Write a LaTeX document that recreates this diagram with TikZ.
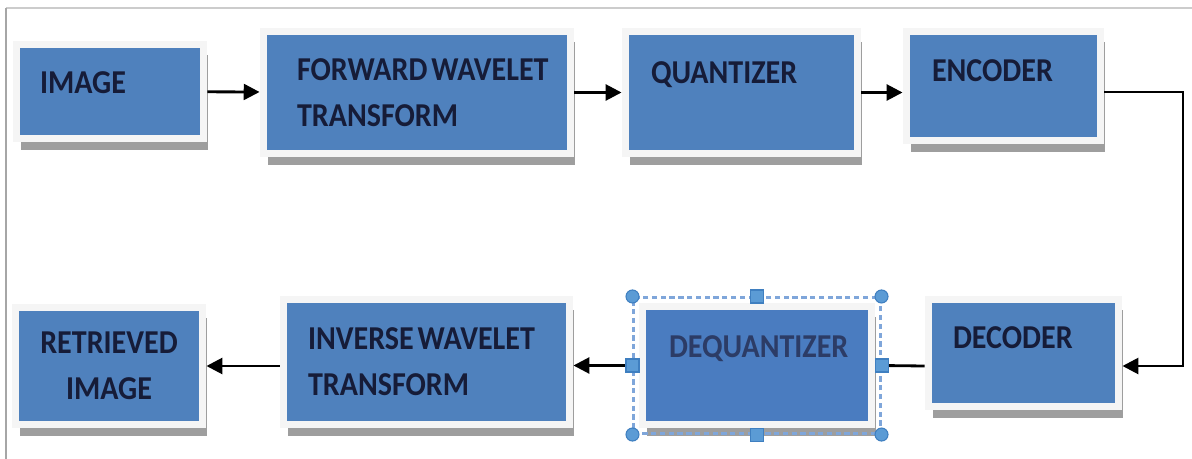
\documentclass[tikz,border=0pt]{standalone}
\usepackage{fontspec}
\setmainfont{Carlito}[FakeStretch=0.9]
\usepackage{tikz}
\usetikzlibrary{arrows.meta,shadows,fit}

\definecolor{blockblue}{HTML}{4F81BD}
\definecolor{deqblue}{HTML}{4A7CC0}
\definecolor{labelnavy}{HTML}{161C38}
\definecolor{deqtext}{HTML}{2C3C66}
\definecolor{selline}{HTML}{7FA6DA}
\definecolor{gripfill}{HTML}{5B9BD5}
\definecolor{gripdraw}{HTML}{3F7FC0}

\newcommand{\tightsp}{\hspace{0.12em}}

\tikzset{
  block/.style={rectangle, fill=blockblue, draw=black!4, line width=4.25pt,
    text=labelnavy, align=left, inner ysep=2pt,
    font=\fontsize{19pt}{26pt}\selectfont\bfseries,
    drop shadow={shadow xshift=0.09cm, shadow yshift=-0.22cm, fill=black!38, opacity=1}},
  oneline/.style={text height=12pt, text depth=#1},
  flow/.style={-{Triangle[length=9pt,width=9pt]}, line width=1.6pt},
  selbox/.style={draw=selline, dash pattern=on 3pt off 2pt, line width=1.2pt, inner sep=0.1cm},
  grip/.style={circle, fill=gripfill, draw=gripdraw, line width=0.6pt, inner sep=0pt, minimum size=0.26cm},
  gripsq/.style={rectangle, fill=gripfill, draw=gripdraw, line width=0.6pt, inner sep=0pt, minimum size=0.26cm}
}

\begin{document}
\begin{tikzpicture}[x=0.02cm, y=-0.02cm]
  \useasboundingbox (0,0) rectangle (1192,459);
  % page edge
  \draw[black!20, line width=0.8pt] (6,8) -- (1192,8);
  \draw[black!35, line width=0.8pt] (6,8) -- (6,459);

  % compression row
  \node[block, oneline=10pt, minimum width=3.75cm, minimum height=1.89cm, text width=2.8cm] (image) at (110,91.5) {IMAGE};
  \node[block, minimum width=6.15cm, minimum height=2.45cm, text width=4.8cm] (fwt) at (417,92.5) {\mbox{FORWARD\tightsp WAVELET}\\TRANSFORM};
  \node[block, oneline=22pt, minimum width=4.65cm, minimum height=2.45cm, text width=3.62cm] (quant) at (741.5,92.5) {QUANTIZER};
  \node[block, oneline=17pt, minimum width=3.89cm, minimum height=2.19cm, text width=2.86cm] (enc) at (1003.5,86) {ENCODER};

  % reconstruction row
  \node[block, oneline=17.5pt, minimum width=3.81cm, minimum height=2.15cm, text width=2.82cm] (dec) at (1023.5,353) {DECODER};
  \node[block, oneline=21.5pt, fill=deqblue, text=deqtext, minimum width=4.59cm, minimum height=2.37cm, text width=3.52cm] (deq) at (757,365.5) {\mbox{DEQUANTIZER}};
  \node[block, minimum width=5.73cm, minimum height=2.51cm, text width=4.74cm] (iwt) at (426.5,362) {\mbox{INVERSE\tightsp WAVELET}\\TRANSFORM};
  \node[block, align=center, minimum width=3.75cm, minimum height=2.35cm, text width=3.2cm] (ri) at (109,366) {RETRIEVED\\IMAGE};

  % selection frame round the dequantizer
  \node[selbox, fit=(deq)] (sel) {};

  \draw[flow] (image) -- (fwt);
  \draw[flow] (fwt) -- (quant);
  \draw[flow] (quant.east) -- (quant.east -| enc.west);
  \coordinate (bend) at (1183,366);
  \draw[flow] ([yshift=-0.12cm]enc.east) -| (bend) -- (bend -| dec.east);
  \draw[line width=1.6pt] (dec.west |- bend) -- (sel.east);
  \draw[flow] (sel.west) -- (sel.west -| iwt.east);
  \draw[flow] (iwt.west |- ri.east) -- (ri.east);

  % handles
  \foreach \c in {north west,north east,south west,south east}
    \node[grip] (grip \c) at (sel.\c) {};
  \foreach \c in {north,south,west,east}
    \node[gripsq] (grip \c) at (sel.\c) {};
\end{tikzpicture}
\end{document}
